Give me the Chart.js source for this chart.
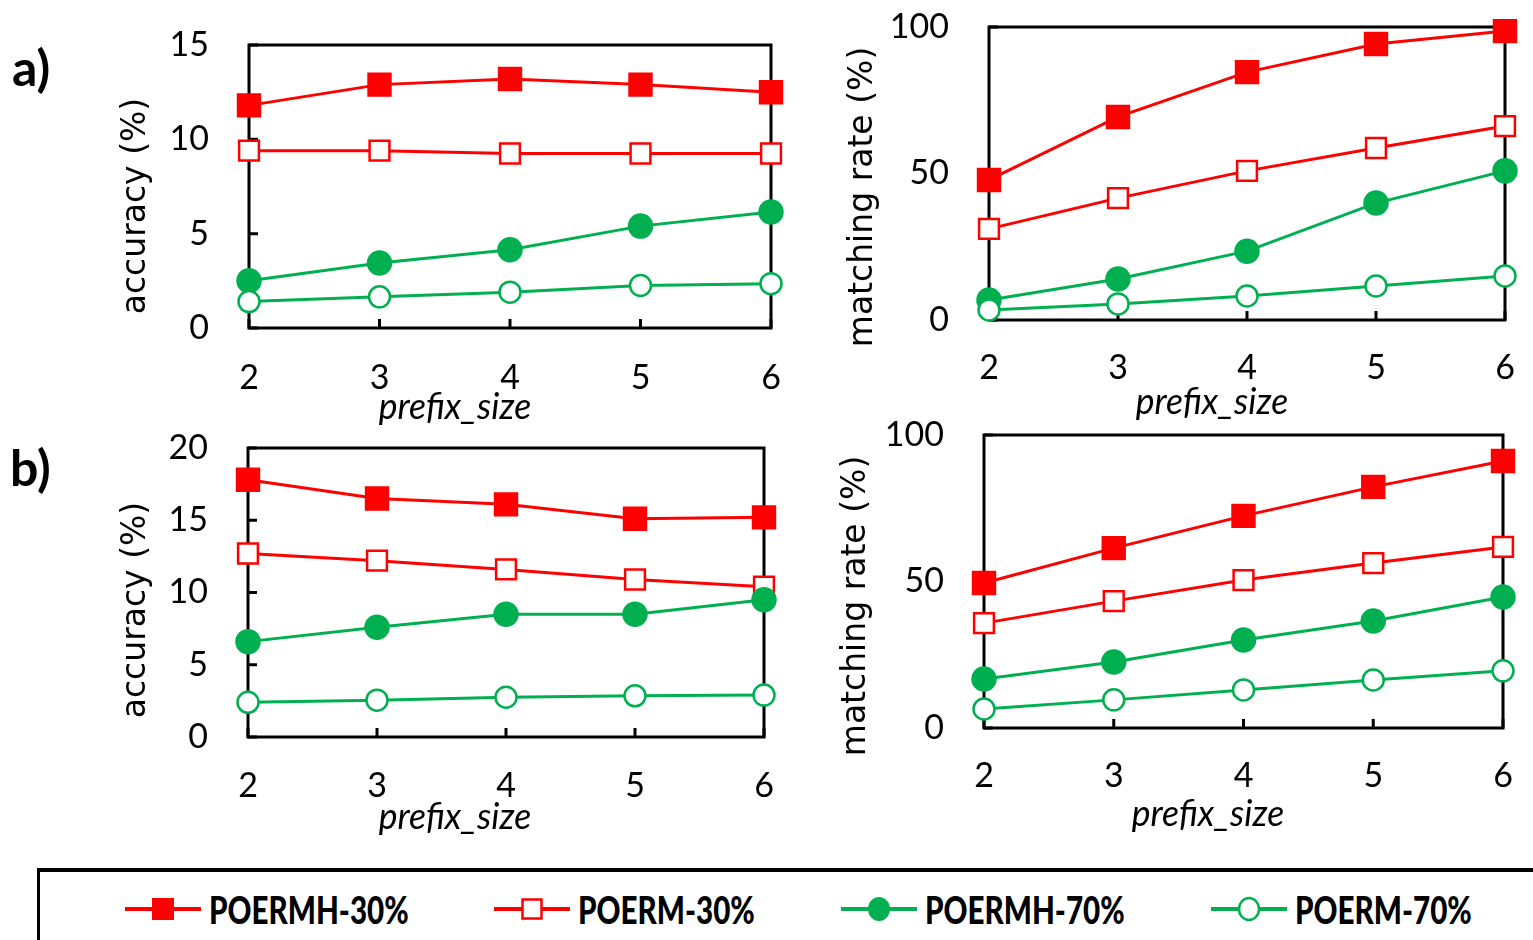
<!DOCTYPE html>
<html>
<head>
<meta charset="utf-8">
<script src="https://cdn.jsdelivr.net/npm/chart.js@4.4.1/dist/chart.umd.min.js"></script>
<style>
  html, body { margin: 0; padding: 0; background: #fff; width: 1533px; height: 940px; overflow: hidden; position: relative; }
  canvas { position: absolute; }
  .lbl { position: absolute; color: #000; white-space: nowrap; line-height: 1; }
  .xt { font-family: Lato, sans-serif; font-style: italic; font-size: 37px; transform: translate(-50%, -50%) scaleX(0.96); }
  .yt { font-family: "DejaVu Sans", sans-serif; font-size: 33px; transform: translate(-50%, -50%) rotate(-90deg); }
  .pn { font-family: Lato, sans-serif; font-weight: bold; font-size: 50px; }
  #legend { position: absolute; left: 37px; top: 868px; width: 1600px; height: 200px; border-top: 4px solid #000; border-left: 3px solid #000; }
  .li { position: absolute; top: 0; height: 70px; }
  .li svg { position: absolute; left: 0; top: 20px; }
  .li span { position: absolute; top: 19px; font-family: Lato, sans-serif; font-weight: 900; font-size: 37px; color: #000; white-space: nowrap; line-height: 1; transform-origin: 0 50%; transform: scaleX(0.8); }
</style>
</head>
<body>
<div class="lbl pn" style="left:12px; top:42px;">a)</div>
<div class="lbl pn" style="left:10px; top:442px;">b)</div>
<canvas id="cA1"></canvas>
<canvas id="cA2"></canvas>
<canvas id="cB1"></canvas>
<canvas id="cB2"></canvas>
<div class="lbl yt" style="left:133px; top:206px;">accuracy (%)</div>
<div class="lbl yt" style="left:860px; top:197px;">matching rate (%)</div>
<div class="lbl yt" style="left:133px; top:610px;">accuracy (%)</div>
<div class="lbl yt" style="left:853px; top:606px;">matching rate (%)</div>
<div class="lbl xt" style="left:455px; top:404px;">prefix_size</div>
<div class="lbl xt" style="left:1212px; top:399px;">prefix_size</div>
<div class="lbl xt" style="left:455px; top:814px;">prefix_size</div>
<div class="lbl xt" style="left:1208px; top:811px;">prefix_size</div>
<div id="legend"></div>
<script>
// ---------- data ----------
const prefixSizes = ['2', '3', '4', '5', '6'];
const seriesNames = ['POERMH-30%', 'POERM-30%', 'POERMH-70%', 'POERM-70%'];

// a) accuracy (%)
const accA_POERMH30 = [11.8, 12.9, 13.2, 12.9, 12.5];
const accA_POERM30  = [9.4, 9.4, 9.25, 9.25, 9.25];
const accA_POERMH70 = [2.5, 3.45, 4.15, 5.4, 6.15];
const accA_POERM70  = [1.4, 1.65, 1.9, 2.25, 2.35];
// a) matching rate (%)
const matA_POERMH30 = [47.8, 69.3, 84.6, 94.2, 98.6];
const matA_POERM30  = [31.1, 41.6, 50.9, 58.7, 66.2];
const matA_POERMH70 = [6.8, 14.0, 23.5, 39.9, 50.9];
const matA_POERM70  = [3.4, 5.5, 8.2, 11.6, 15.0];
// b) accuracy (%)
const accB_POERMH30 = [17.8, 16.5, 16.1, 15.1, 15.2];
const accB_POERM30  = [12.7, 12.2, 11.6, 10.9, 10.4];
const accB_POERMH70 = [6.6, 7.6, 8.5, 8.5, 9.5];
const accB_POERM70  = [2.4, 2.55, 2.75, 2.85, 2.9];
// b) matching rate (%)
const matB_POERMH30 = [49.5, 61.4, 72.4, 82.3, 91.1];
const matB_POERM30  = [35.8, 43.3, 50.5, 56.3, 61.8];
const matB_POERMH70 = [16.7, 22.5, 30.0, 36.5, 44.7];
const matB_POERM70  = [6.5, 9.6, 13.0, 16.4, 19.5];

const accTicksA = { min: 0, max: 15, step: 5 };
const accTicksB = { min: 0, max: 20, step: 5 };
const matTicks  = { min: 0, max: 100, step: 50 };

// ---------- styles ----------
const RED = '#FF0000';
const GREEN = '#00B050';
const NARROW = 'Lato, sans-serif';

const seriesStyles = [
  { color: RED,   pointStyle: 'rect',   radius: 15.5, fill: RED },
  { color: RED,   pointStyle: 'rect',   radius: 14,   fill: '#FFFFFF' },
  { color: GREEN, pointStyle: 'circle', radius: 11.5, fill: GREEN },
  { color: GREEN, pointStyle: 'circle', radius: 10.5, fill: '#FFFFFF' }
];

const framePlugin = {
  id: 'frame',
  beforeDatasetsDraw(chart) {
    const { ctx, chartArea: a, scales: { x, y } } = chart;
    ctx.save();
    ctx.strokeStyle = '#000';
    ctx.lineWidth = 3;
    ctx.strokeRect(a.left, a.top, a.right - a.left, a.bottom - a.top);
    ctx.beginPath();
    x.ticks.forEach((t, i) => {
      const px = x.getPixelForTick(i);
      ctx.moveTo(px, a.bottom);
      ctx.lineTo(px, a.bottom - 9);
    });
    y.ticks.forEach((t, i) => {
      const py = y.getPixelForTick(i);
      ctx.moveTo(a.left, py);
      ctx.lineTo(a.left + 9, py);
    });
    ctx.stroke();
    ctx.restore();
  }
};

function makeChart(id, box, series, yTicks) {
  const cv = document.getElementById(id);
  cv.style.left = box.left + 'px';
  cv.style.top = box.top + 'px';
  cv.width = box.w; cv.height = box.h;
  cv.style.width = box.w + 'px'; cv.style.height = box.h + 'px';
  const yW = box.plotL - box.left;
  const xH = box.top + box.h - box.plotB;
  const padTop = box.plotT - box.top;
  const padRight = box.left + box.w - box.plotR;
  return new Chart(cv, {
    type: 'line',
    data: {
      labels: prefixSizes,
      datasets: series.map((d, i) => ({
        label: seriesNames[i],
        data: d,
        borderColor: seriesStyles[i].color,
        borderWidth: 3,
        pointStyle: seriesStyles[i].pointStyle,
        pointRadius: seriesStyles[i].radius,
        pointBackgroundColor: seriesStyles[i].fill,
        pointBorderColor: seriesStyles[i].color,
        pointBorderWidth: 2.5,
        tension: 0,
        clip: false,
        order: 4 - i
      }))
    },
    options: {
      responsive: false,
      animation: false,
      devicePixelRatio: 1,
      layout: { padding: { top: padTop, right: padRight, left: 0, bottom: 0 } },
      plugins: { legend: { display: false }, tooltip: { enabled: false } },
      scales: {
        x: {
          type: 'category',
          offset: false,
          grid: { display: false, drawTicks: false },
          border: { display: false },
          ticks: { color: '#000', font: { family: NARROW, size: 34 }, padding: box.xPad, maxRotation: 0 },
          afterFit(s) { s.height = xH; s.paddingLeft = 0; s.paddingRight = 0; }
        },
        y: {
          min: yTicks.min, max: yTicks.max,
          grid: { display: false, drawTicks: false },
          border: { display: false },
          ticks: { stepSize: yTicks.step, color: '#000', font: { family: NARROW, size: 34 }, padding: 40 },
          afterFit(s) { s.width = yW; s.paddingTop = 0; s.paddingBottom = 0; }
        }
      }
    },
    plugins: [framePlugin]
  });
}

makeChart('cA1', { left: 90, top: 15, w: 720, h: 410, plotL: 249, plotT: 45, plotR: 771, plotB: 328, xPad: 30 },
  [accA_POERMH30, accA_POERM30, accA_POERMH70, accA_POERM70], accTicksA);
makeChart('cA2', { left: 830, top: 0, w: 703, h: 425, plotL: 989, plotT: 27, plotR: 1505, plotB: 320, xPad: 28 },
  [matA_POERMH30, matA_POERM30, matA_POERMH70, matA_POERM70], matTicks);
makeChart('cB1', { left: 90, top: 425, w: 720, h: 420, plotL: 248, plotT: 448, plotR: 764, plotB: 737, xPad: 29 },
  [accB_POERMH30, accB_POERM30, accB_POERMH70, accB_POERM70], accTicksB);
makeChart('cB2', { left: 820, top: 415, w: 713, h: 430, plotL: 984, plotT: 435, plotR: 1503, plotB: 728, xPad: 28 },
  [matB_POERMH30, matB_POERM30, matB_POERMH70, matB_POERM70], matTicks);

// ---------- legend ----------
const legendX = [85, 454, 801, 1171]; // left of symbol, relative to legend box
const legend = document.getElementById('legend');
seriesNames.forEach((name, i) => {
  const st = seriesStyles[i];
  const item = document.createElement('div');
  item.className = 'li';
  item.style.left = legendX[i] + 'px';
  let marker;
  if (st.pointStyle === 'rect') {
    const s = st.fill === '#FFFFFF' ? 19 : 22;
    marker = `<rect x="${38 - s / 2}" y="${17 - s / 2}" width="${s}" height="${s}" fill="${st.fill}" stroke="${st.color}" stroke-width="${st.fill === '#FFFFFF' ? 2.5 : 0}"/>`;
  } else {
    const r = st.fill === '#FFFFFF' ? 10 : 11;
    marker = `<ellipse cx="38" cy="17" rx="${r}" ry="${r + 1}" fill="${st.fill}" stroke="${st.color}" stroke-width="${st.fill === '#FFFFFF' ? 2.5 : 0}"/>`;
  }
  item.innerHTML = `<svg width="78" height="36" viewBox="0 0 78 36"><line x1="0" y1="17" x2="76" y2="17" stroke="${st.color}" stroke-width="4"/>${marker}</svg><span style="left:84px">${name}</span>`;
  legend.appendChild(item);
});
</script>
</body>
</html>
